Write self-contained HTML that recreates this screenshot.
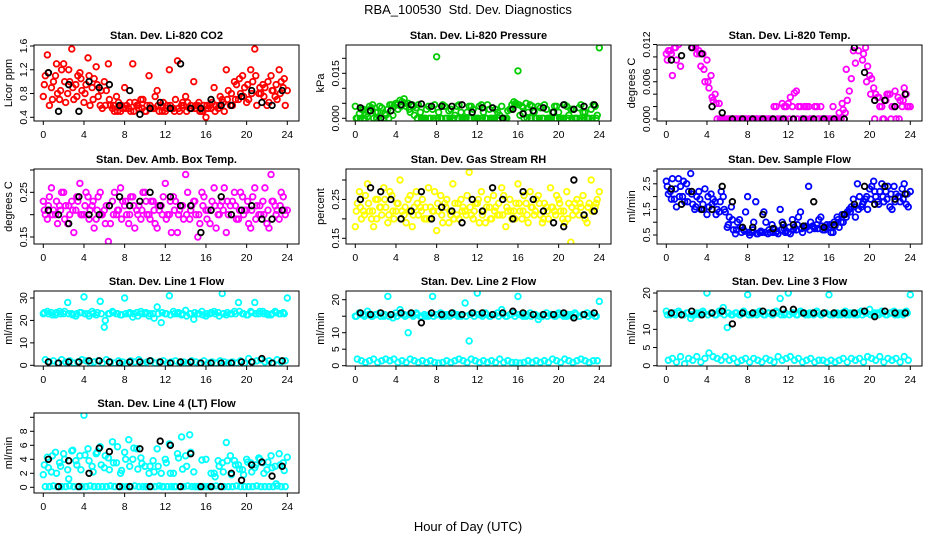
<!DOCTYPE html>
<html><head><meta charset="utf-8"><style>
html,body{margin:0;padding:0;background:#fff;width:936px;height:540px;overflow:hidden}
svg{display:block;font-family:"Liberation Sans",sans-serif}
</style></head><body>
<svg id="chart" width="936" height="540" viewBox="0 0 936 540" xmlns="http://www.w3.org/2000/svg">
<rect x="0" y="0" width="936" height="540" fill="#fff"/>
<text x="468" y="14" font-size="13" text-anchor="middle" style="white-space:pre">RBA_100530  Std. Dev. Diagnostics</text>
<text x="468" y="531" font-size="13" text-anchor="middle">Hour of Day (UTC)</text>
</svg>
<script>
const xTicks=[0,4,8,12,16,20,24];
const p1A=[0.75,1.45,0.9,1.1,0.7,1.3,0.8,1.55,0.95,1.15,0.65,1.4,0.9,1.25,0.6,1.0,1.3,0.55,0.75,0.5,0.9,0.55,1.3,0.6,0.7,0.5,1.1,0.55,0.85,0.6,0.5,1.2,0.55,1.35,0.6,0.75,0.55,1.0,0.6,0.5,0.4,0.6,0.9,0.55,0.7,1.2,0.6,1.0,0.7,1.1,0.65,1.2,1.55,0.8,0.95,0.6,1.1,0.75,1.2,0.9,0.85];
const p1B=[1.1,0.6,1.0,0.8,1.2,0.65,1.0,0.7,1.1,0.85,0.95,0.6,1.05,0.75,0.55,0.85,0.6,0.5,0.65,0.55,0.6,0.5,0.65,0.55,0.7,0.6,0.55,0.75,0.5,0.65,0.6,0.55,0.7,0.5,0.6,0.65,0.55,0.6,0.5,0.6,0.55,0.65,0.6,0.75,0.5,0.85,0.6,0.95,0.8,0.9,0.7,1.0,0.6,0.8,0.9,0.65,0.85,0.7,1.0,0.6];
const p1C=[0.95,1.15,0.7,1.3,0.85,1.0,1.2,0.9,0.75,1.05,0.8,1.1,0.7,0.95,0.85,0.6,0.7,0.6,0.5,0.6,0.55,0.65,0.5,0.6,0.55,0.5,0.6,0.55,0.6,0.5,0.55,0.6,0.5,0.55,0.65,0.5,0.6,0.55,0.65,0.5,0.6,0.55,0.5,0.6,0.65,0.7,0.8,0.7,1.05,0.75,0.95,0.8,1.1,0.9,0.75,1.0,0.85,0.95,0.8,1.05];
const p1K=[1.15,0.5,0.95,0.5,1.0,0.9,0.95,0.6,0.85,0.45,0.55,0.65,0.55,1.3,0.55,0.55,0.7,0.6,0.6,0.75,0.85,0.65,0.6,0.85];
const p2A=[0.004,0.0015,0.003,0.0005,0.0035,0.002,0.004,0,0.003,0.0045,0.005,0.006,0.0065,0.005,0.0045,0.0035,0.002,0,0.004,0.003,0.0205,0,0.004,0.0025,0,0.004,0.002,0,0.004,0.003,0,0.0045,0,0.003,0,0.002,0.004,0,0.003,0.0055,0.0158,0.004,0.005,0.0045,0.002,0.004,0,0.003,0,0.004,0.002,0,0.004,0.003,0,0.0035,0.002,0,0.003,0.004,0.0235];
const p2B=[0,0.003,0.001,0.004,0,0.002,0.0035,0.001,0.0045,0.004,0.003,0.0055,0.004,0.002,0.001,0.0045,0,0.003,0,0.0045,0.002,0.0045,0,0.003,0.001,0.0045,0,0.002,0.004,0,0.004,0.002,0.0045,0,0.003,0.001,0,0.0025,0.0045,0.005,0.001,0,0.002,0.004,0,0.0035,0.0045,0,0.002,0.004,0,0.0045,0.001,0.003,0,0.0045,0.002,0,0.0045,0.001];
const p2C=[0,0,0,0.0025,0.0045,0,0,0.0015,0,0.001,0.0045,0.004,0.005,0.003,0.004,0,0,0,0,0,0,0,0,0,0,0,0,0,0,0,0,0,0,0,0,0,0,0,0.003,0.0045,0.0045,0.0035,0,0,0,0,0,0,0,0,0,0,0,0,0,0,0,0,0,0];
const p2K=[0.0035,0.0025,0,0.0025,0.0045,0.0045,0.0048,0.004,0.004,0.004,0.0045,0.002,0.0035,0.0035,0,0.003,0.0015,0.0025,0.0035,0.002,0.0045,0.003,0.004,0.0045];
const p3A=[0.0105,0.011,0.0115,0.012,0.0125,0.013,0.0125,0.012,0.011,0.0105,0.0095,0.007,0.004,0.0025,0,0,0,0,0,0,0,0,0,0,0,0,0,0.002,0,0.002,0.0025,0.002,0.0045,0.002,0.002,0.002,0,0.002,0.002,0,0,0.002,0,0,0.001,0.0045,0.011,0.0125,0.0125,0.0115,0.007,0.005,0.0035,0.002,0.003,0.004,0.002,0.0035,0.002,0.004,0.002];
const p3B=[0.011,0.007,0.0095,0.0085,0.0125,0.0125,0.0115,0.0105,0.0085,0.006,0.005,0.003,0,0,0,0,0,0,0,0,0,0,0,0,0,0,0.002,0,0.0025,0.002,0.0035,0.0042,0.002,0,0.002,0,0.002,0,0,0,0,0,0.001,0.0015,0.003,0.0065,0.009,0.013,0.0105,0.0085,0.0065,0.004,0.002,0,0.004,0.002,0,0.003,0.005,0.002];
const p3C=[0.0095,0.0105,0.0115,0.0128,0.0128,0.0128,0.0125,0.0115,0.0105,0.008,0.006,0.0035,0.0025,0,0,0,0,0,0,0,0,0,0,0,0,0,0,0,0,0,0,0,0,0,0,0,0,0,0,0,0,0,0,0.0025,0.008,0.0125,0.0128,0.011,0.0095,0.006,0.004,0,0.0035,0,0.004,0,0.0045,0,0.003,0.002];
const p3K=[0.0095,0.0102,0.0115,0.0105,0.002,0.001,0,0,0,0,0,0,0,0,0,0,0,0,0.0115,0.0075,0.003,0.003,0.002,0.004];
const p4A=[0.23,0.19,0.26,0.2,0.22,0.25,0.18,0.23,0.21,0.27,0.2,0.24,0.22,0.19,0.25,0.21,0.14,0.23,0.2,0.26,0.22,0.18,0.24,0.21,0.19,0.25,0.2,0.23,0.17,0.22,0.27,0.2,0.24,0.16,0.22,0.29,0.19,0.23,0.15,0.25,0.21,0.18,0.26,0.2,0.23,0.16,0.22,0.25,0.19,0.24,0.21,0.17,0.26,0.2,0.23,0.18,0.29,0.22,0.19,0.24,0.21];
const p4B=[0.2,0.24,0.21,0.18,0.25,0.22,0.2,0.16,0.23,0.2,0.25,0.21,0.17,0.24,0.2,0.22,0.18,0.25,0.21,0.23,0.2,0.24,0.17,0.22,0.25,0.2,0.23,0.18,0.21,0.24,0.2,0.16,0.23,0.21,0.19,0.25,0.22,0.2,0.18,0.24,0.21,0.23,0.17,0.22,0.26,0.2,0.23,0.19,0.25,0.21,0.18,0.24,0.22,0.2,0.26,0.17,0.23,0.21,0.25,0.2];
const p4C=[0.21,0.22,0.2,0.23,0.21,0.19,0.22,0.21,0.24,0.2,0.22,0.19,0.23,0.21,0.2,0.18,0.22,0.2,0.21,0.19,0.23,0.2,0.22,0.2,0.21,0.23,0.19,0.21,0.22,0.2,0.19,0.23,0.21,0.2,0.22,0.2,0.21,0.23,0.2,0.22,0.19,0.21,0.22,0.2,0.21,0.23,0.2,0.22,0.21,0.2,0.23,0.21,0.19,0.22,0.2,0.21,0.23,0.2,0.22,0.21];
const p4K=[0.21,0.2,0.18,0.24,0.2,0.2,0.22,0.24,0.22,0.23,0.25,0.22,0.24,0.22,0.22,0.16,0.21,0.24,0.2,0.21,0.22,0.19,0.19,0.21];
const p5A=[0.18,0.27,0.22,0.29,0.2,0.25,0.23,0.28,0.19,0.26,0.22,0.3,0.21,0.25,0.18,0.27,0.23,0.2,0.28,0.22,0.17,0.26,0.24,0.19,0.29,0.21,0.25,0.22,0.32,0.2,0.24,0.27,0.19,0.23,0.26,0.21,0.28,0.18,0.25,0.22,0.29,0.2,0.24,0.27,0.21,0.26,0.19,0.23,0.28,0.22,0.25,0.2,0.27,0.14,0.24,0.21,0.26,0.19,0.3,0.23,0.27];
const p5B=[0.24,0.2,0.26,0.22,0.18,0.25,0.21,0.23,0.27,0.2,0.24,0.22,0.19,0.26,0.23,0.21,0.25,0.2,0.23,0.27,0.22,0.19,0.25,0.21,0.24,0.2,0.23,0.26,0.21,0.24,0.19,0.22,0.25,0.2,0.23,0.21,0.26,0.22,0.2,0.24,0.22,0.26,0.19,0.23,0.25,0.21,0.24,0.2,0.23,0.26,0.22,0.19,0.24,0.21,0.25,0.23,0.2,0.24,0.22,0.25];
const p5C=[0.22,0.23,0.21,0.24,0.22,0.2,0.23,0.25,0.21,0.22,0.24,0.2,0.23,0.22,0.21,0.24,0.22,0.23,0.2,0.22,0.24,0.21,0.23,0.22,0.2,0.24,0.22,0.21,0.23,0.22,0.25,0.21,0.23,0.2,0.22,0.24,0.21,0.23,0.22,0.2,0.24,0.22,0.21,0.23,0.22,0.24,0.2,0.22,0.23,0.21,0.24,0.22,0.2,0.23,0.22,0.24,0.21,0.23,0.22,0.24];
const p5K=[0.25,0.28,0.27,0.25,0.2,0.22,0.27,0.2,0.23,0.22,0.19,0.25,0.22,0.28,0.25,0.2,0.27,0.25,0.22,0.19,0.18,0.3,0.21,0.22];
const p6A=[2.6,2.2,1.9,2.7,2.0,2.5,2.9,1.5,2.2,1.7,1.3,2.1,1.8,1.4,2.0,0.8,1.6,0.55,1.1,0.7,2.0,0.6,1.8,0.6,1.4,0.55,0.9,0.6,1.5,0.75,0.6,1.1,0.7,1.4,0.8,2.4,0.85,0.9,1.2,0.7,0.8,0.6,1.2,1.0,1.3,1.5,1.9,2.5,1.6,1.9,2.3,2.6,1.8,2.5,2.2,1.6,2.4,2.0,2.3,1.7,2.2];
const p6B=[2.1,2.7,1.6,2.4,1.8,2.2,1.7,2.0,1.5,2.3,1.6,1.9,1.5,2.2,1.4,1.2,0.7,1.0,0.6,1.4,0.5,1.0,0.55,0.6,1.0,0.6,0.75,0.55,1.0,0.65,0.55,0.8,1.2,0.6,0.8,1.0,0.75,1.1,0.7,0.9,0.6,0.85,0.8,1.0,1.4,1.6,1.2,2.0,1.8,1.5,2.4,2.0,2.2,1.8,2.4,1.5,2.1,1.8,2.5,1.6];
const p6C=[2.4,1.9,2.3,2.0,2.6,1.8,2.1,1.6,1.9,1.5,2.0,1.7,1.3,1.8,1.5,0.9,1.1,0.7,0.8,0.65,0.6,0.7,0.55,0.65,0.6,0.7,0.6,0.65,0.7,0.6,0.8,0.7,0.9,0.75,0.85,0.7,0.8,0.75,0.85,0.8,0.9,1.0,1.1,1.3,1.2,1.4,1.6,1.5,1.7,2.0,1.9,2.2,1.7,2.0,1.9,2.1,1.8,2.0,1.9,2.1];
const p6K=[2.3,1.7,2.2,1.5,1.5,2.4,1.8,0.8,0.8,1.3,0.75,0.9,0.9,0.85,1.8,0.8,0.9,1.3,1.7,2.4,1.7,2.4,1.9,2.1];
const p7A=[23,24,23.5,22.5,24,23,28,23,22,23.5,30.5,23,24,22.5,28.5,17,23,24,23,22.5,30,23,21.5,23.5,24,23,22,23,26,19,23,31,24,23,22.5,24.5,23,20.5,23,24,22,23,24,23.5,32,22.5,23,24,28,23,22.5,24,28,23,24,23,22.5,24,23,23.5,30];
const p7B=[2.5,1.5,2,1,2.5,1.5,2,1,1.5,2.5,2,1,1.5,2,1,2.5,1.5,1,2,1.5,1,2,1.5,2.5,1,1.5,2,1,1.5,2,1,1.5,2,1,1.5,1,2,1.5,1,2,1,1.5,1,2,1.5,1,1.5,1,2,1,3,1.5,2,2.5,1.5,2,1,2.5,1.5,2];
const p7C=[23.5,23,22.5,23.5,23,24,23,22.5,23,23.5,23,22,23,23.5,23,20,23,23.5,23,22.5,23,23.5,23,22,23,23.5,23,21,23,23.5,23,22.5,23,23.5,23,22,23,23.5,23,22.5,23,23.5,23,22,23,23.5,23,23,24,23,22.5,23.5,23,24,23,22.5,23,23.5,23,23];
const p7K=[1.5,1,1.5,1.5,2,2,1.5,1,1.5,1.5,2,1.5,1,1.5,1.5,1,1,1,1,1.5,1.5,3,1,2];
const p8A=[15,16,15.5,16.5,15,15.5,16,15,21,15.5,16,17,15.5,10,15.5,16,15,15.5,15,21,15.5,16,15,15.5,16,15.5,15,19,7.5,16,22,15.5,16,15,15.5,16,17,15,15.5,16,21,15.5,15,16,15.5,14,15,16,15.5,15,16,15.5,15,15.5,16,15,15.5,16,15.5,15,19.5];
const p8B=[2,1.5,1,1.5,2,1,1.5,2,1.5,2,1,1.5,1,2,1.5,1,1.5,1,1.5,1,0.8,1,1.5,1,1.5,2,1.5,1,2,1.5,1,1.5,1,1.5,1,2,1,1.5,1,1,0.8,1,1.5,1,1.5,1,1.5,1,2,1.5,1,2,1.5,1,1.5,2,1.5,1,1.5,1.5];
const p8C=[15,15.5,15,15.5,15,15.5,15,15.5,15,14.5,15,15.5,15,15.5,15,15.5,15,15,15.5,15,15.5,15,15.5,15,15.5,15,15.5,15,15.5,15,15.5,15,15.5,15,15.5,15,15.5,15,15.5,15,15.5,15,15.5,15,15.5,15,15.5,15,15.5,15,15.5,15,15.5,15,15.5,15,15.5,15,15.5,15];
const p8K=[16,15.5,16,15.5,16,16,13,16,15.5,16,15.5,16,16,15.5,16,16.5,16,15.5,15.5,15.5,16,14.5,15.5,16];
const p9A=[15,14,14.5,15,14,14.5,13,14,14.5,15,20,14.5,14,15,16,10.5,14,14.5,14,15,19.5,14,14.5,15,14,14.5,14,15,18.5,14,20,14.5,14,15,14.5,14,14.5,15,14,14.5,19.5,14,14.5,14,15,14,14.5,14,15,14.5,15.5,14,14.5,15,14,14.5,15,14,14.5,15,19.5];
const p9B=[1.5,2,1,2.5,0.5,2,1.5,2.5,1,2,3.5,2.5,2,1.5,2.5,1.5,2,1,1.5,2,1,2,1.5,1,2,1.5,1,2.5,1.5,2,2.5,1.5,2,1,1.5,2,1,1.5,1.5,1,1.5,1,1.5,2,1,2,1.5,2,1,2.5,2,1.5,2.5,1,2,1.5,2,1,2.5,1.5];
const p9C=[14,14.5,14,14.5,14,14.5,14,14.5,14,14.5,14,14.5,14,14.5,14,14.5,14,14.5,14,14.5,14,14.5,14,14.5,14,14.5,14,14.5,14,14.5,14,14.5,14,14.5,14,14.5,14,14.5,14,14.5,14,14.5,14,14.5,14,14.5,14,14.5,14,14.5,14,14.5,14,14.5,14,14.5,14,14.5,14,14.5];
const p9K=[14.5,14,15,14,14.5,15,11.5,14.5,14.5,15,14.5,15.5,15.5,14.5,14.5,14.5,14.5,14.5,14.5,15,13.5,15,14.5,14.5];
const p10A=[1.8,4.3,2.2,5.0,3.5,4.8,2.5,5.2,3.8,4.5,10.3,5.5,3.0,4.8,5.8,2.8,4.2,6.5,3.5,2.0,5.0,6.8,4.0,5.5,4.2,3.0,2.0,3.8,5.5,2.0,4.0,6.2,2.0,4.8,7.2,4.5,7.5,2.2,0.1,3.9,4.0,0.1,2.0,3.8,3.5,6.4,4.5,3.8,3.2,2.5,4.0,3.5,2.8,4.2,3.5,2.5,4.5,3.0,4.8,3.5,4.3];
const p10B=[0.1,0.1,0.2,0.1,0.1,0.1,0.2,0.1,0.1,0.1,0.1,0.2,0.1,0.1,0.1,0.1,0.2,0.1,0.1,0.1,0.1,0.1,0.2,0.1,0.1,0.1,0.1,0.1,0.2,0.1,0.1,0.1,0.1,0.1,0.1,0.2,0.1,0.1,0.1,0.1,0.1,0.1,0.2,0.1,0.1,0.1,0.1,0.2,0.1,0.1,0.1,0.1,0.2,0.1,0.1,0.1,0.1,0.2,0.1,0.1];
const p10C=[3.2,2.8,4.5,2.0,3.0,4.0,1.2,5.3,3.2,2.5,4.6,3.8,2.2,5.0,3.2,4.5,2.5,3.5,5.8,2.4,4.0,3.0,5.6,2.6,3.4,0.1,3.0,2.2,3.0,0.1,3.5,2.0,0.1,4.2,2.6,3.0,5.0,0.1,0.1,0.1,0.1,2.0,1.5,3.0,2.2,3.8,1.8,3.2,2.6,1.8,3.6,2.2,3.2,4.0,2.0,3.6,2.8,0.5,3.2,2.4];
const p10K=[4.0,0.1,3.8,0.1,2.0,5.6,5.1,0.1,0.1,5.5,0.1,6.6,6.0,0.1,4.8,0.1,0.1,0.1,2.0,1.0,3.2,3.6,1.6,3.0];

const panels=[
 {name:'co2',title:'Stan. Dev. Li-820 CO2',ylab:'Licor ppm',col:'#ff0000',c:0,top:45,h:76,v0:0.4,p0:117.3,v1:1.6,p1:46,ticks:[0.4,0.8,1.2,1.6],labels:['0.4','0.8','1.2','1.6'],A:p1A,B:p1B,C:p1C,K:p1K},
 {name:'pressure',title:'Stan. Dev. Li-820 Pressure',ylab:'kPa',col:'#00cc00',c:1,top:45,h:76,v0:0,p0:118.3,v1:0.015,p1:73.3,ticks:[0,0.005,0.01,0.015,0.02],labels:['0.000','','','0.015',''],A:p2A,B:p2B,C:p2C,K:p2K},
 {name:'licor-temp',title:'Stan. Dev. Li-820 Temp.',ylab:'degrees C',col:'#ff00ff',c:2,top:45,h:76,v0:0,p0:119,v1:0.012,p1:44.5,ticks:[0,0.002,0.004,0.006,0.008,0.01,0.012],labels:['0.000','','','0.006','','','0.012'],A:p3A,B:p3B,C:p3C,K:p3K},
 {name:'amb-box-temp',title:'Stan. Dev. Amb. Box Temp.',ylab:'degrees C',col:'#ff00ff',c:0,top:169,h:75,v0:0.15,p0:237,v1:0.30,p1:170,ticks:[0.15,0.2,0.25,0.3],labels:['0.15','','0.25',''],A:p4A,B:p4B,C:p4C,K:p4K},
 {name:'gas-stream-rh',title:'Stan. Dev. Gas Stream RH',ylab:'percent',col:'#ffff00',c:1,top:169,h:75,v0:0.15,p0:238.3,v1:0.30,p1:180,ticks:[0.15,0.2,0.25,0.3],labels:['0.15','','0.25',''],A:p5A,B:p5B,C:p5C,K:p5K},
 {name:'sample-flow',title:'Stan. Dev. Sample Flow',ylab:'ml/min',col:'#0000ff',c:2,top:169,h:75,v0:0.5,p0:235,v1:3.0,p1:171,ticks:[0.5,1,1.5,2,2.5,3],labels:['0.5','','1.5','','2.5',''],A:p6A,B:p6B,C:p6C,K:p6K},
 {name:'line1-flow',title:'Stan. Dev. Line 1 Flow',ylab:'ml/min',col:'#00ffff',c:0,top:291,h:75,v0:0,p0:365.3,v1:30,p1:298,ticks:[0,10,20,30],labels:['0','10','20','30'],A:p7A,B:p7B,C:p7C,K:p7K},
 {name:'line2-flow',title:'Stan. Dev. Line 2 Flow',ylab:'ml/min',col:'#00ffff',c:1,top:291,h:75,v0:0,p0:365.7,v1:20,p1:299.7,ticks:[0,5,10,15,20],labels:['0','5','10','','20'],A:p8A,B:p8B,C:p8C,K:p8K},
 {name:'line3-flow',title:'Stan. Dev. Line 3 Flow',ylab:'ml/min',col:'#00ffff',c:2,top:291,h:75,v0:0,p0:365.7,v1:20,p1:293,ticks:[0,5,10,15,20],labels:['0','5','10','','20'],A:p9A,B:p9B,C:p9C,K:p9K},
 {name:'line4-flow',title:'Stan. Dev. Line 4 (LT) Flow',ylab:'ml/min',col:'#00ffff',c:0,top:413,h:80,v0:0,p0:487.3,v1:10,p1:417.3,ticks:[0,2,4,6,8,10],labels:['0','2','4','6','8',''],A:p10A,B:p10B,C:p10C,K:p10K}
];
const colX=[34,346,657];
const NS='http://www.w3.org/2000/svg';
const svg=document.getElementById('chart');
function mk(tag,attrs,parent){const e=document.createElementNS(NS,tag);for(const k in attrs)e.setAttribute(k,attrs[k]);(parent||svg).appendChild(e);return e;}
panels.forEach((p,pi)=>{
 const bx=colX[p.c],bw=265,by=p.top,bh=p.h;
 const xAt=h=>bx+9.3+h*244/24;
 const yAt=v=>p.p0+(v-p.v0)*(p.p1-p.p0)/(p.v1-p.v0);
 const g=mk('g',{});
 
 
 const cp=mk('clipPath',{id:'cp'+pi},g);
 mk('rect',{x:bx,y:by,width:bw,height:bh},cp);
 const t=mk('text',{x:bx+bw/2,y:by-6,'font-size':11,'font-weight':'bold','text-anchor':'middle'},g);
 t.textContent=p.title;
 
 
 const yl=mk('text',{x:0,y:0,'font-size':11,'text-anchor':'middle',transform:`translate(${bx-22},${by+bh/2}) rotate(-90)`},g);
 yl.textContent=p.ylab;
 
 
 const pts=mk('g',{'clip-path':`url(#cp${pi})`,fill:'none','stroke-width':1.8},g);
 
 
 const series=[[p.A,0,p.col],[p.B,0.2,p.col],[p.C,0.1,p.col],[p.K,0.5,'#000']];
 series.forEach(([arr,off,col])=>{
  const step=(arr.length>30)?0.4:1;
  arr.forEach((v,i)=>{
   const c=mk('circle',{cx:xAt(off+i*step),cy:yAt(v),r:2.8,stroke:col},pts);
   
   
  });
 });
 const box=mk('rect',{x:bx,y:by,width:bw,height:bh,fill:'none',stroke:'#000','stroke-width':1},g);
 
 
 xTicks.forEach(h=>{
  const x=xAt(h);
  mk('line',{x1:x,y1:by+bh,x2:x,y2:by+bh+4,stroke:'#000'},g);
  const tl=mk('text',{x:x,y:by+bh+17,'font-size':10.5,'text-anchor':'middle'},g);
  tl.textContent=h;
  
  
 });
 p.ticks.forEach((v,i)=>{
  const y=yAt(v);
  mk('line',{x1:bx,y1:y,x2:bx-4,y2:y,stroke:'#000'},g);
  if(p.labels[i]){
   const tl=mk('text',{x:0,y:0,'font-size':10.5,'text-anchor':'middle',transform:`translate(${bx-7},${y}) rotate(-90)`},g);
   tl.textContent=p.labels[i];
   
   
  }
 });
});
</script>
</body></html>
